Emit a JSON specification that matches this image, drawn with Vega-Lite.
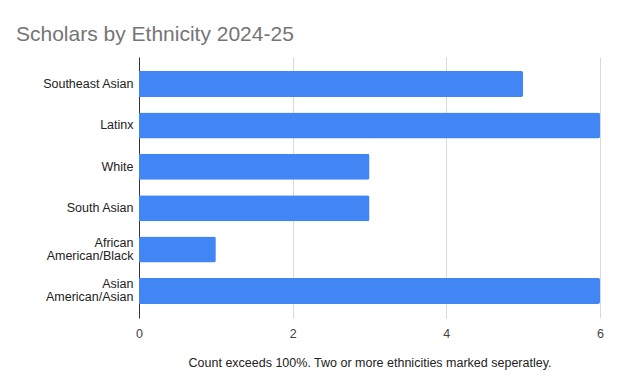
{
  "$schema": "https://vega.github.io/schema/vega-lite/v6.json",
  "width": 461,
  "height": 261,
  "autosize": {"type": "none"},
  "padding": {"left": 139, "top": 57, "right": 22, "bottom": 73},
  "background": "white",
  "title": {
    "text": "Scholars by Ethnicity 2024-25",
    "anchor": "start",
    "frame": "group",
    "dx": -123,
    "offset": 12,
    "font": "Liberation Sans",
    "fontSize": 21,
    "fontWeight": "normal",
    "color": "#757575"
  },
  "data": {
    "values": [
      {"ethnicity": "Southeast Asian", "count": 5},
      {"ethnicity": "Latinx", "count": 6},
      {"ethnicity": "White", "count": 3},
      {"ethnicity": "South Asian", "count": 3},
      {"ethnicity": "African American/Black", "count": 1},
      {"ethnicity": "Asian American/Asian", "count": 6}
    ]
  },
  "mark": {"type": "bar", "color": "#4285F4", "cornerRadiusEnd": 2},
  "encoding": {
    "y": {
      "field": "ethnicity",
      "type": "nominal",
      "sort": null,
      "title": null,
      "scale": {"paddingInner": 0.37, "paddingOuter": 0.34},
      "axis": {
        "ticks": false,
        "grid": false,
        "domain": true,
        "domainColor": "#333333",
        "domainWidth": 1,
        "labelFont": "Liberation Sans",
        "labelFontSize": 12.5,
        "labelColor": "#222222",
        "labelPadding": 6,
        "labelLineHeight": 13,
        "labelExpr": "indexof(datum.label, ' American/') > 0 ? [substring(datum.label, 0, indexof(datum.label, ' ')), substring(datum.label, indexof(datum.label, ' ') + 1)] : datum.label",
        "labelOffset": {"expr": "indexof(datum.value, ' American/') > 0 ? -7 : 0"}
      }
    },
    "x": {
      "field": "count",
      "type": "quantitative",
      "title": "Count exceeds 100%. Two or more ethnicities marked seperatley.",
      "scale": {"domain": [0, 6], "nice": false},
      "axis": {
        "values": [0, 2, 4, 6],
        "ticks": false,
        "domain": false,
        "grid": true,
        "gridColor": "#d9d9d9",
        "gridWidth": 1,
        "labelFlush": false,
        "labelFont": "Liberation Sans",
        "labelFontSize": 12.5,
        "labelColor": "#444444",
        "labelPadding": 9,
        "titleFont": "Liberation Sans",
        "titleFontSize": 12.5,
        "titleFontWeight": "normal",
        "titleColor": "#222222",
        "titlePadding": 17
      }
    }
  },
  "config": {"view": {"stroke": null}}
}
